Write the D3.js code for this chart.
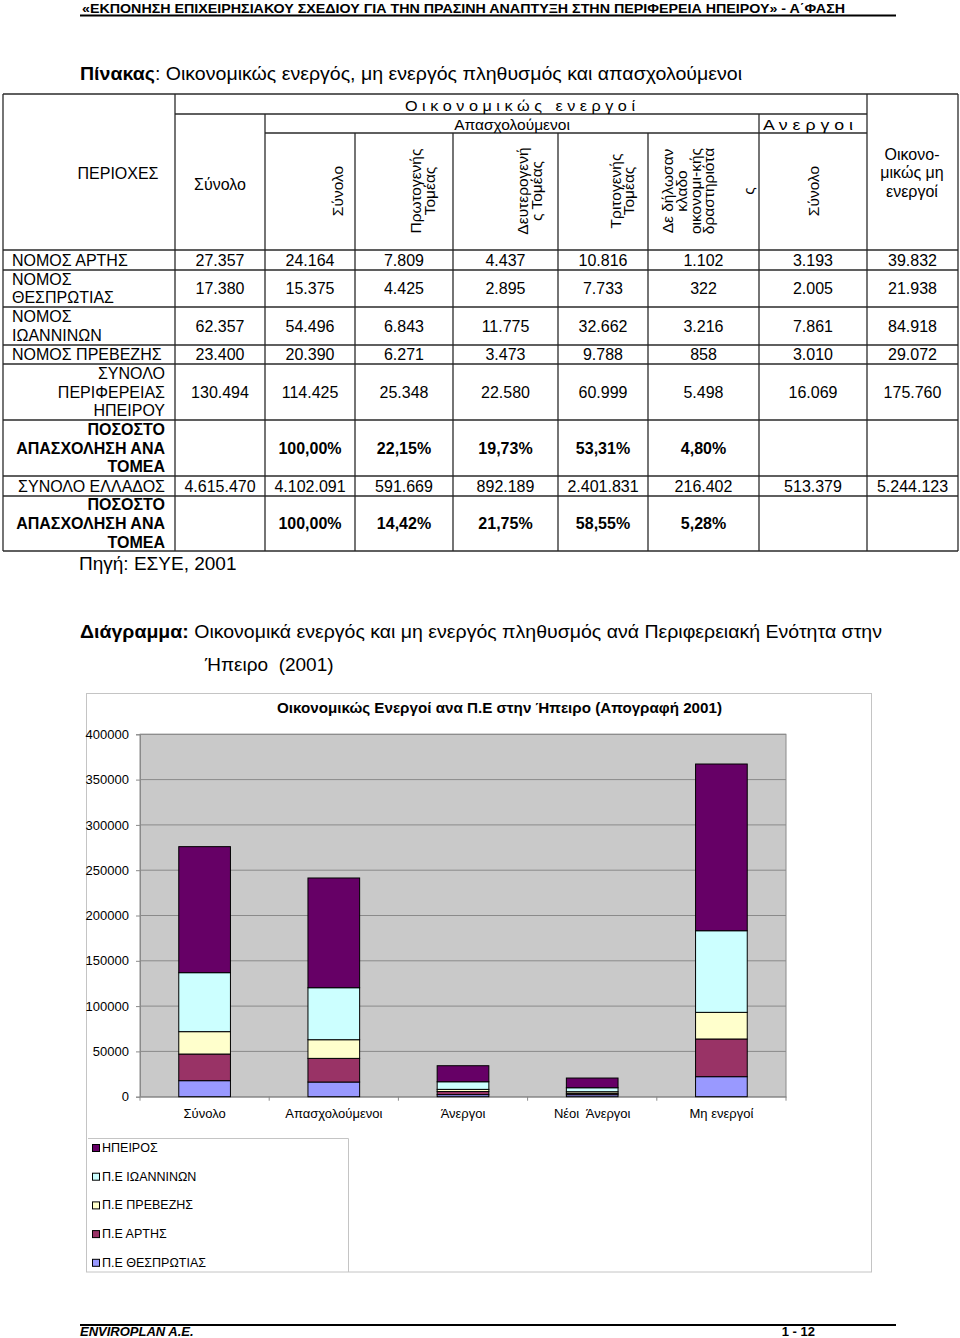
<!DOCTYPE html>
<html><head><meta charset="utf-8">
<script src="https://cdn.jsdelivr.net/npm/d3@7"></script>
<style>
body{margin:0;background:#fff}
svg{display:block}
text{font-family:"Liberation Sans",Arial,sans-serif;fill:#000;white-space:pre}
</style>
</head><body>
<svg id="c" width="960" height="1338"></svg>
<script>
// ---------------- DATA ----------------
const docHeader = "«ΕΚΠΟΝΗΣΗ ΕΠΙΧΕΙΡΗΣΙΑΚΟΥ ΣΧΕΔΙΟΥ ΓΙΑ ΤΗΝ ΠΡΑΣΙΝΗ ΑΝΑΠΤΥΞΗ ΣΤΗΝ ΠΕΡΙΦΕΡΕΙΑ ΗΠΕΙΡΟΥ» - Α΄ΦΑΣΗ";
const tableCaptionBold = "Πίνακας";
const tableCaptionRest = ": Οικονομικώς ενεργός, μη ενεργός πληθυσμός και απασχολούμενοι";
const sourceNote = "Πηγή: ΕΣΥΕ, 2001";

const regionLabelLines = [
  ["ΝΟΜΟΣ ΑΡΤΗΣ"],
  ["ΝΟΜΟΣ", "ΘΕΣΠΡΩΤΙΑΣ"],
  ["ΝΟΜΟΣ", "ΙΩΑΝΝΙΝΩΝ"],
  ["ΝΟΜΟΣ ΠΡΕΒΕΖΗΣ"],
  ["ΣΥΝΟΛΟ", "ΠΕΡΙΦΕΡΕΙΑΣ", "ΗΠΕΙΡΟΥ"],
  ["ΠΟΣΟΣΤΟ", "ΑΠΑΣΧΟΛΗΣΗ ΑΝΑ", "ΤΟΜΕΑ"],
  ["ΣΥΝΟΛΟ ΕΛΛΑΔΟΣ"],
  ["ΠΟΣΟΣΤΟ", "ΑΠΑΣΧΟΛΗΣΗ ΑΝΑ", "ΤΟΜΕΑ"]
];
const rowArta      = ["27.357", "24.164", "7.809", "4.437", "10.816", "1.102", "3.193", "39.832"];
const rowThesprot  = ["17.380", "15.375", "4.425", "2.895", "7.733", "322", "2.005", "21.938"];
const rowIoannina  = ["62.357", "54.496", "6.843", "11.775", "32.662", "3.216", "7.861", "84.918"];
const rowPreveza   = ["23.400", "20.390", "6.271", "3.473", "9.788", "858", "3.010", "29.072"];
const rowEpirus    = ["130.494", "114.425", "25.348", "22.580", "60.999", "5.498", "16.069", "175.760"];
const rowEpirusPct = ["", "100,00%", "22,15%", "19,73%", "53,31%", "4,80%", "", ""];
const rowGreece    = ["4.615.470", "4.102.091", "591.669", "892.189", "2.401.831", "216.402", "513.379", "5.244.123"];
const rowGreecePct = ["", "100,00%", "14,42%", "21,75%", "58,55%", "5,28%", "", ""];

const headTop = "Ο ι κ ο ν ο μ ι κ ώ ς   ε ν ε ρ γ ο ί";
const headEmployed = "Απασχολούμενοι";
const headUnemployed = "Α ν ε ρ γ ο ι";
const headRegions = "ΠΕΡΙΟΧΕΣ";
const headTotal = "Σύνολο";
const headInactive = ["Οικονο-", "μικώς μη", "ενεργοί"];
const rotatedHeads = [
  ["Σύνολο"],
  ["Πρωτογενής", "Τομέας"],
  ["Δευτερογενή", "ς Τομέας"],
  ["Τριτογενής", "Τομέας"],
  ["Δε δήλωσαν", "κλαδο", "οικονομι-κής", "δραστηριότα", "ς"],
  ["Σύνολο"]
];

const chartCaptionBold = "Διάγραμμα:";
const chartCaptionRest = " Οικονομικά ενεργός και μη ενεργός πληθυσμός ανά Περιφερειακή Ενότητα στην";
const chartCaptionLine2 = "Ήπειρο  (2001)";
const chartTitle = "Οικονομικώς Ενεργοί ανα Π.Ε στην Ήπειρο (Απογραφή 2001)";

const categories = ["Σύνολο", "Απασχολούμενοι", "Άνεργοι", "Νέοι  Άνεργοι", "Μη ενεργοί"];
// stacked bottom -> top
const seriesNames = ["Π.Ε ΘΕΣΠΡΩΤΙΑΣ", "Π.Ε ΑΡΤΗΣ", "Π.Ε ΠΡΕΒΕΖΗΣ", "Π.Ε ΙΩΑΝΝΙΝΩΝ", "ΗΠΕΙΡΟΣ"];
const thesprotia = [17700, 16200, 2300, 2200, 22100];
const arta       = [29400, 26100, 3400, 1500, 41600];
const preveza    = [24700, 20600, 2400, 1800, 29400];
const ioannina   = [65100, 57400, 8400, 4400, 90100];
const ipeiros    = [139100, 121100, 17700, 10700, 184000];
const yTicks = [0, 50000, 100000, 150000, 200000, 250000, 300000, 350000, 400000];
// legend order (top -> bottom)
const legendOrder = ["ΗΠΕΙΡΟΣ", "Π.Ε ΙΩΑΝΝΙΝΩΝ", "Π.Ε ΠΡΕΒΕΖΗΣ", "Π.Ε ΑΡΤΗΣ", "Π.Ε ΘΕΣΠΡΩΤΙΑΣ"];

const footerLeft = "ENVIROPLAN A.E.";
const footerRight = "1 - 12";

// ---------------- DRAW ----------------
const svg = d3.select("#c");
const narrow = '"Liberation Sans Narrow","Arial Narrow","Liberation Sans",Arial,sans-serif';

// page header
svg.append("text").attr("x", 82).attr("y", 12.5)
  .attr("font-family", narrow).attr("font-weight", "bold").attr("font-size", 13)
  .attr("textLength", 763).attr("lengthAdjust", "spacingAndGlyphs").text(docHeader);
svg.append("line").attr("x1", 80).attr("x2", 896).attr("y1", 15.5).attr("y2", 15.5)
  .attr("stroke", "#000").attr("stroke-width", 1.8);

// table caption
const cap = svg.append("text").attr("x", 80).attr("y", 80).attr("font-size", 19)
  .attr("textLength", 662).attr("lengthAdjust", "spacingAndGlyphs");
cap.append("tspan").attr("font-weight", "bold").text(tableCaptionBold);
cap.append("tspan").text(tableCaptionRest);

// ---- table ----
const colX = [3, 175, 265, 355, 453, 558, 648, 759, 867, 958];
const hY = [94, 114, 133, 250];
const rowY = [250, 270, 307, 345, 364, 420, 476, 496, 551];
const T = svg.append("g");
const stroke = "#2a2a2a", sw = 1.3;
function hl(x1, x2, y) { T.append("line").attr("x1", x1).attr("x2", x2).attr("y1", y).attr("y2", y).attr("stroke", stroke).attr("stroke-width", sw); }
function vl(x, y1, y2) { T.append("line").attr("x1", x).attr("x2", x).attr("y1", y1).attr("y2", y2).attr("stroke", stroke).attr("stroke-width", sw); }
hl(colX[0], colX[9], hY[0]);
hl(colX[1], colX[8], hY[1]);
hl(colX[2], colX[8], hY[2]);
rowY.forEach(y => hl(colX[0], colX[9], y));
vl(colX[0], hY[0], rowY[8]);
vl(colX[9], hY[0], rowY[8]);
vl(colX[1], hY[0], rowY[8]);
vl(colX[2], hY[1], rowY[8]);
[3, 4, 5, 6].forEach(i => vl(colX[i], hY[2], rowY[8]));
vl(colX[7], hY[1], rowY[8]);
vl(colX[8], hY[0], rowY[8]);

const FS = 16;
function txt(x, y, s, anchor, opts = {}) {
  const t = T.append("text").attr("x", x).attr("y", y).attr("font-size", opts.fs || FS)
    .attr("text-anchor", anchor).attr("dominant-baseline", "central").text(s);
  if (opts.bold) t.attr("font-weight", "bold");
  if (opts.len) t.attr("textLength", opts.len).attr("lengthAdjust", "spacingAndGlyphs");
  return t;
}
// header texts
txt(520, 105, headTop, "middle", { len: 230, fs: 15 });
txt(512, 124, headEmployed, "middle", { fs: 15.5 });
txt(808, 124, headUnemployed, "middle", { len: 90, fs: 15 });
txt(118, 173, headRegions, "middle");
txt(220, 184, headTotal, "middle");
headInactive.forEach((s, i) => txt(912, 154 + i * 18.5, s, "middle"));
const rotXs = [[337], [415, 429], [522, 536], [615, 628], [667, 681, 695, 708, 748], [813]];
rotatedHeads.forEach((lines, ci) => {
  lines.forEach((s, li) => {
    T.append("text").attr("transform", `translate(${rotXs[ci][li]},191) rotate(-90)`)
      .attr("font-size", 15.5).attr("text-anchor", "middle").attr("dominant-baseline", "central").text(s);
  });
});

// body rows
const bodyRows = [rowArta, rowThesprot, rowIoannina, rowPreveza, rowEpirus, rowEpirusPct, rowGreece, rowGreecePct];
const boldRows = [5, 7];
bodyRows.forEach((vals, r) => {
  const cy = (rowY[r] + rowY[r + 1]) / 2;
  const bold = boldRows.includes(r);
  const lines = regionLabelLines[r];
  const right = r >= 4;
  lines.forEach((s, li) => {
    const y = cy + (li - (lines.length - 1) / 2) * 18.7;
    txt(right ? 165 : 12, y, s, right ? "end" : "start", { bold });
  });
  vals.forEach((v, j) => {
    if (!v) return;
    txt((colX[j + 1] + colX[j + 2]) / 2, cy, v, "middle", { bold });
  });
});
svg.append("text").attr("x", 79).attr("y", 563).attr("dominant-baseline", "central")
  .attr("font-size", 19).text(sourceNote);

// chart caption
const cc = svg.append("text").attr("x", 80).attr("y", 631).attr("dominant-baseline", "central")
  .attr("font-size", 19).attr("textLength", 802).attr("lengthAdjust", "spacingAndGlyphs");
cc.append("tspan").attr("font-weight", "bold").text(chartCaptionBold);
cc.append("tspan").text(chartCaptionRest);
svg.append("text").attr("x", 205).attr("y", 664).attr("dominant-baseline", "central")
  .attr("font-size", 19).text(chartCaptionLine2);

// ---- chart ----
const frame = { x: 86.5, y: 693.5, w: 785, h: 578.5 };
svg.append("rect").attr("x", frame.x).attr("y", frame.y).attr("width", frame.w).attr("height", frame.h)
  .attr("fill", "#fff").attr("stroke", "#c4c4c4").attr("stroke-width", 1);
svg.append("text").attr("x", 499.5).attr("y", 708).attr("text-anchor", "middle").attr("dominant-baseline", "central")
  .attr("font-size", 14).attr("font-weight", "bold").attr("textLength", 445).attr("lengthAdjust", "spacingAndGlyphs")
  .text(chartTitle);

const plot = { l: 140, r: 786, t: 734.3, b: 1096.7 };
const x = d3.scaleBand().domain(categories).range([plot.l, plot.r]).paddingInner(0.6).paddingOuter(0.3);
const y = d3.scaleLinear().domain([0, 400000]).range([plot.b, plot.t]);

svg.append("rect").attr("x", plot.l).attr("y", plot.t).attr("width", plot.r - plot.l).attr("height", plot.b - plot.t)
  .attr("fill", "#c9c9c9").attr("stroke", "#8a8a8a").attr("stroke-width", 1);
svg.append("g").selectAll("line").data(yTicks.slice(1)).join("line")
  .attr("x1", plot.l).attr("x2", plot.r).attr("y1", d => y(d)).attr("y2", d => y(d))
  .attr("stroke", "#8a8a8a").attr("stroke-width", 1);

const yAxis = svg.append("g").attr("transform", `translate(${plot.l},0)`)
  .call(d3.axisLeft(y).tickValues(yTicks).tickFormat(d3.format("d")).tickSize(4).tickPadding(7));
yAxis.select(".domain").attr("stroke", "#8a8a8a");
yAxis.selectAll(".tick line").attr("stroke", "#8a8a8a");
yAxis.selectAll("text").attr("font-size", 13).attr("font-family", '"Liberation Sans",Arial,sans-serif').attr("fill", "#000");

const xAxis = svg.append("g").attr("transform", `translate(0,${plot.b})`)
  .call(d3.axisBottom(x).tickSize(0).tickPadding(12));
xAxis.select(".domain").attr("stroke", "#8a8a8a");
xAxis.selectAll("text").attr("font-size", 13).attr("font-family", '"Liberation Sans",Arial,sans-serif').attr("fill", "#000");
// category separator ticks
svg.append("g").selectAll("line").data(d3.range(categories.length + 1)).join("line")
  .attr("x1", i => plot.l + i * x.step()).attr("x2", i => plot.l + i * x.step())
  .attr("y1", plot.b).attr("y2", plot.b + 4).attr("stroke", "#8a8a8a");

const seriesValues = [thesprotia, arta, preveza, ioannina, ipeiros];
const colors = { "Π.Ε ΘΕΣΠΡΩΤΙΑΣ": "#9999FF", "Π.Ε ΑΡΤΗΣ": "#993366", "Π.Ε ΠΡΕΒΕΖΗΣ": "#FFFFCC", "Π.Ε ΙΩΑΝΝΙΝΩΝ": "#CCFFFF", "ΗΠΕΙΡΟΣ": "#660066" };
const table = categories.map((c, i) => {
  const o = { cat: c };
  seriesNames.forEach((s, k) => o[s] = seriesValues[k][i]);
  return o;
});
const stacked = d3.stack().keys(seriesNames)(table);
svg.append("g").selectAll("g").data(stacked).join("g").attr("fill", d => colors[d.key])
  .selectAll("rect").data(d => d).join("rect")
  .attr("x", d => x(d.data.cat)).attr("width", x.bandwidth())
  .attr("y", d => y(d[1])).attr("height", d => y(d[0]) - y(d[1]))
  .attr("stroke", "#000").attr("stroke-width", 1);

// legend
const lg = svg.append("g");
lg.append("path").attr("d", "M88,1138.5 H348.5 V1272").attr("fill", "none").attr("stroke", "#c4c4c4");
legendOrder.forEach((name, i) => {
  const cy = 1148 + i * 28.7;
  lg.append("rect").attr("x", 92.5).attr("y", cy - 3.5).attr("width", 7).attr("height", 7)
    .attr("fill", colors[name]).attr("stroke", "#000").attr("stroke-width", 1);
  lg.append("text").attr("x", 102).attr("y", cy).attr("dominant-baseline", "central")
    .attr("font-size", 12.5).text(name);
});

// footer
svg.append("line").attr("x1", 80).attr("x2", 896).attr("y1", 1325).attr("y2", 1325)
  .attr("stroke", "#000").attr("stroke-width", 1.8);
svg.append("text").attr("x", 80).attr("y", 1336).attr("font-family", narrow).attr("font-weight", "bold")
  .attr("font-style", "italic").attr("font-size", 13).text(footerLeft);
svg.append("text").attr("x", 815).attr("y", 1336).attr("text-anchor", "end").attr("font-family", narrow)
  .attr("font-weight", "bold").attr("font-size", 13).text(footerRight);
</script>
</body></html>
